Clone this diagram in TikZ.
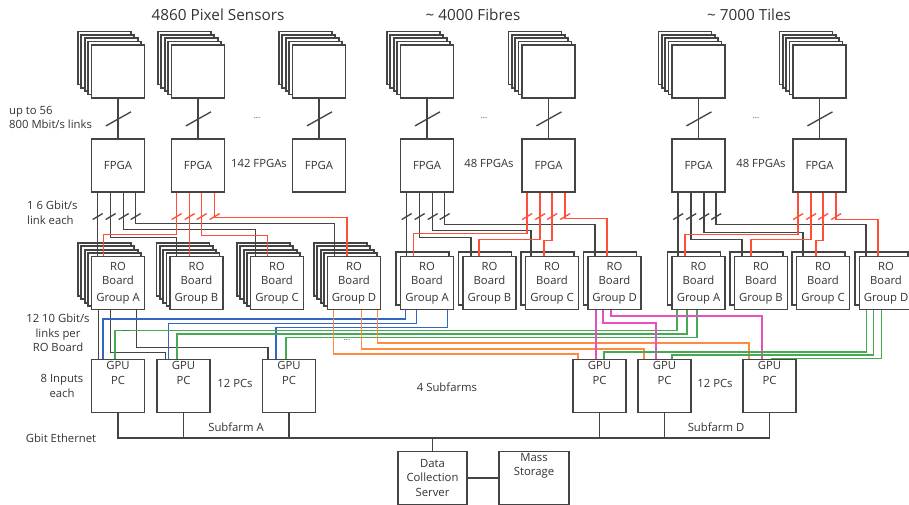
\documentclass[tikz,border=0pt]{standalone}
\usepackage{fontspec}
\setmainfont{Open Sans}
\usetikzlibrary{positioning}
\definecolor{BoxGray}{HTML}{444444}
\definecolor{LabelGray}{HTML}{333333}
\definecolor{LinkRed}{HTML}{FF4F3B}
\definecolor{LinkBlue}{HTML}{3465C4}
\definecolor{LinkGreen}{HTML}{48A954}
\definecolor{LinkOrange}{HTML}{FF8A40}
\definecolor{LinkPink}{HTML}{E452BF}

\begin{document}
\begin{tikzpicture}[x=1pt, y=-1pt,
  font=\fontsize{11.3}{14.5}\selectfont, text=LabelGray,
  card/.style={draw=BoxGray, line width=1.7pt, fill=white, inner sep=1pt,
    minimum width=53pt, minimum height=53pt, align=center},
  topcard/.style={card, label={[anchor=north, align=center, inner sep=2.5pt]north:#1}},
  sheet/.style={draw=BoxGray, line width=1.7pt, fill=white},
  wire/.style={line width=1.35pt, draw=#1},
  wire/.default=BoxGray,
  note/.style={align=center, inner sep=1pt},
  head/.style={font=\fontsize{15.3}{17}\selectfont}]
  \useasboundingbox (0,0) rectangle (909,505);

  % detector titles
  \node[head] (tpix) at (218,15) {4860 Pixel Sensors};
  \node[head] (tfib) at (473,15) {\textasciitilde{} 4000 Fibres};
  \node[head] (ttil) at (749,15) {\textasciitilde{} 7000 Tiles};

  % sensor stacks with their FPGAs
  \foreach \x/\n in {118/1, 198/2, 319/3, 427/4, 548.5/5, 698.5/6, 819.5/7} {
    \foreach \k in {4,3,2,1}
      \draw[sheet] (\x-26.5-3.4*\k, 45-3.4*\k) rectangle ++(53,53);
    \node[card] (s\n) at (\x,71.5) {};
    \node[card, below=39pt of s\n] (f\n) {FPGA};
    \draw[wire] (s\n) -- (f\n);
    \draw[wire] ([shift={(-12,-12)}]f\n.north) -- ++(25,-14);
  }

  % readout boards
  \foreach \x/\n/\g in {118/pa/A, 196.5/pb/B, 277/pc/C, 354/pd/D} {
    \foreach \k in {4,3,2,1}
      \draw[sheet] (\x-26.5-3.4*\k, 256.5-3.4*\k) rectangle ++(53,53);
    \node[card] (r\n) at (\x,283) {RO\\Board\\[2pt]Group \g};
  }
  \foreach \x/\n/\g in {427/fa/A, 489.5/fb/B, 552/fc/C, 614.5/fd/D,
                        698.5/ta/A, 761/tb/B, 823/tc/C, 886/td/D} {
    \draw[sheet] (\x-31, 252) rectangle ++(53,53);
    \node[card] (r\n) at (\x,283) {RO\\Board\\[2pt]Group \g};
  }

  % GPU farm and storage
  \foreach \x/\n in {118/a1, 183.5/a2, 289/a3, 599.5/d1, 664.5/d2, 769.5/d3}
    \node[topcard=GPU\\PC] (p\n) at (\x,386) {};
  \node[card, minimum width=69pt] (dcs) at (432.5,478) {Data\\Collection\\Server};
  \node[topcard=Mass\\Storage, minimum width=70pt] (mass) at (534,478) {};

  % FPGA -> RO board links
  \foreach \n in {1,4,6}
    \foreach \dx in {7,20,33,45}
      \draw[wire] ([shift={(\dx-5,27)}]f\n.south west) -- ++(10,-6);
  \foreach \n in {2,5,7}
    \foreach \dx in {6,19,31,44}
      \draw[wire=LinkRed] ([shift={(\dx-5,27)}]f\n.south west) -- ++(10,-6);
  \foreach \dx/\dy/\to/\tx in {7/20/pa/7, 20/45/pb/7.5, 33/37/pc/6, 45/31/pd/8}
    \draw[wire] ([xshift=\dx]f1.south west) -- ++(0,\dy) -| ([xshift=\tx]r\to.north west);
  \foreach \dx/\dy/\to/\tx in {6/42/pa/13, 19/20/pb/20.5, 31/43/pc/18, 44/25/pd/20.5}
    \draw[wire=LinkRed] ([xshift=\dx]f2.south west) -- ++(0,\dy) -| ([xshift=\tx]r\to.north west);
  \foreach \dx/\dy/\to/\tx in {7/20/fa/7, 20/45/fb/9, 33/38/fc/6.5, 45/32/fd/8}
    \draw[wire] ([xshift=\dx]f4.south west) -- ++(0,\dy) -| ([xshift=\tx]r\to.north west);
  \foreach \dx/\dy/\to/\tx in {6/41/fa/14, 19/47/fb/17, 31/48/fc/19.5, 44/26/fd/20}
    \draw[wire=LinkRed] ([xshift=\dx]f5.south west) -- ++(0,\dy) -| ([xshift=\tx]r\to.north west);
  \foreach \dx/\dy/\to/\tx in {7/20/ta/7, 20/47/tb/8.5, 33/40/tc/7.5, 45/32/td/7.5}
    \draw[wire] ([xshift=\dx]f6.south west) -- ++(0,\dy) -| ([xshift=\tx]r\to.north west);
  \foreach \dx/\dy/\to/\tx in {6/42/ta/14, 19/47/tb/17.5, 31/48/tc/20.5, 44/27/td/19.5}
    \draw[wire=LinkRed] ([xshift=\dx]f7.south west) -- ++(0,\dy) -| ([xshift=\tx]r\to.north west);

  % RO board -> GPU PC links
  \foreach \dx/\dy/\to/\tx in {8/20/a1/8, 20/42/a2/9.5, 46/37/a3/6.5}
    \draw[wire] ([xshift=\dx]rpa.south west) -- ++(0,\dy) -| ([xshift=\tx]p\to.north west);
  \foreach \dx/\dy/\to/\tx in {6/8.5/a1/12.5, 17/13/a2/12.5, 48/17/a3/14.5}
    \draw[wire=LinkBlue] ([xshift=\dx]rfa.south west) -- ++(0,\dy) -| ([xshift=\tx]p\to.north west);
  \foreach \dx/\dy/\to/\tx in {6/20/a1/24.5, 16/23.5/a2/21, 26/27/a3/24.5}
    \draw[wire=LinkGreen] ([xshift=\dx]rta.south west) -- ++(0,\dy) -| ([xshift=\tx]p\to.north west);
  \foreach \dx/\dy/\to/\tx in {7/43.5/d1/6, 35/38.5/d2/7, 51/32.5/d3/7}
    \draw[wire=LinkOrange] ([xshift=\dx]rpd.south west) -- ++(0,\dy) -| ([xshift=\tx]p\to.north west);
  \foreach \dx/\dy/\to/\tx in {9/20/d1/24, 16/12.5/d2/19, 24/5.5/d3/20}
    \draw[wire=LinkPink] ([xshift=\dx]rfd.south west) -- ++(0,\dy) -| ([xshift=\tx]p\to.north west);
  \foreach \dx/\dy/\to/\tx in {8/41.5/d1/32, 15/44.5/d2/35, 23/48/d3/30}
    \draw[wire=LinkGreen] ([xshift=\dx]rtd.south west) -- ++(0,\dy) -| ([xshift=\tx]p\to.north west);

  % Gbit Ethernet
  \coordinate (bus) at (0,438);
  \draw[wire, line width=1.6pt] (pa1.south) -- (pa1.south |- bus) -| (pd3.south);
  \foreach \n in {a2,a3,d1,d2}
    \draw[wire, line width=1.6pt] (p\n.south) -- (p\n.south |- bus);
  \draw[wire, line width=1.6pt] (dcs.north) -- (dcs.north |- bus);
  \draw[wire, line width=1.6pt] (dcs) -- (mass);

  % annotations
  \node[note, anchor=west, align=left] (nlinks) at (8,117.5) {up to 56\\800 Mbit/s links};
  \node[note, anchor=west, align=left] (nfast) at (26,213) {1 6 Gbit/s\\link each};
  \node[note] (nlinkro) at (58,333) {12 10 Gbit/s\\links per\\RO Board};
  \node[note] (ninputs) at (62,386) {8 Inputs\\each};
  \node[note] (neth) at (61,438) {Gbit Ethernet};
  \node[note] (npix) at (259,163) {142 FPGAs};
  \node[note] (nfib) at (489,163) {48 FPGAs};
  \node[note] (ntil) at (761,163) {48 FPGAs};
  \node[note] (npca) at (235,383) {12 PCs};
  \node[note] (npcd) at (715,383) {12 PCs};
  \node[note] (nsfa) at (236,427) {Subfarm A};
  \node[note] (nsfd) at (716,427) {Subfarm D};
  \node[note] (nsub) at (447,387) {4 Subfarms};
  \foreach \x/\y [count=\i] in {257/118, 484/118, 756/118, 126/331, 347/340}
    \node[note, font=\fontsize{8}{8}\selectfont] (dots\i) at (\x,\y) {...};
\end{tikzpicture}
\end{document}
